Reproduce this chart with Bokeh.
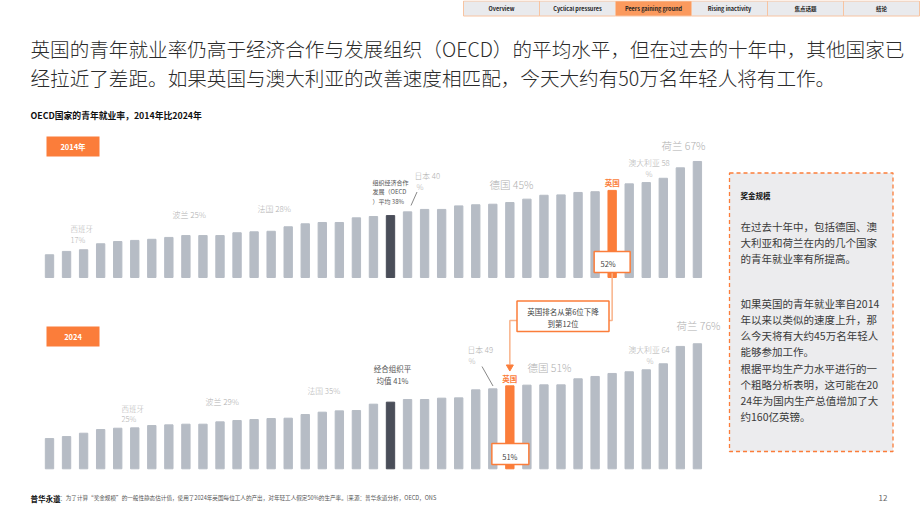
from bokeh.plotting import figure
from bokeh.models import Range1d, ColumnDataSource
from bokeh.embed import file_html
from bokeh.resources import INLINE
from bokeh.core.properties import value

FONT = value("Noto Sans CJK SC")
FONT_LIGHT = value("'Noto Sans CJK SC Light', 'Noto Sans CJK SC'")

# ---------------- data ----------------
rates_2014 = [17.0, 18.8, 19.7, 22.9, 24.1, 24.7, 25.3, 26.3, 27.3, 27.3,
              27.3, 28.8, 29.3, 29.6, 32.0, 33.6, 34.3, 34.3, 36.8, 37.5,
              38.0, 40.0, 41.3, 41.3, 43.2, 43.8, 44.1, 45.0, 46.8, 48.9,
              49.1, 50.4, 50.8, 51.5, 55.0, 55.7, 58.0, 63.6, 67.0]
rates_2024 = [19.2, 20.4, 22.4, 24.6, 25.4, 25.6, 27.0, 27.4, 27.8, 27.8,
              29.2, 30.0, 30.6, 31.2, 31.4, 33.6, 35.0, 35.8, 36.0, 39.8,
              41.0, 42.6, 42.6, 43.4, 43.6, 48.4, 49.0, 50.8, 51.2, 51.4,
              51.4, 55.0, 56.4, 58.2, 59.2, 60.4, 64.0, 74.4, 76.0]
oecd_idx_2014, uk_idx_2014 = 20, 33
oecd_idx_2024, uk_idx_2024 = 20, 27
uk_2014_label, uk_2024_label = "52%", "51%"

tabs = ["Overview", "Cyclical pressures", "Peers gaining ground",
        "Rising inactivity", "焦点话题", "结论"]
active_tab = 2

title_lines = ["英国的青年就业率仍高于经济合作与发展组织（OECD）的平均水平，但在过去的十年中，其他国家已",
               "经拉近了差距。如果英国与澳大利亚的改善速度相匹配，今天大约有50万名年轻人将有工作。"]
subtitle = "OECD国家的青年就业率，2014年比2024年"
side_title = "奖金规模"
side_lines = ["在过去十年中，包括德国、澳", "大利亚和荷兰在内的几个国家", "的青年就业率有所提高。", "",
              "如果英国的青年就业率自2014", "年以来以类似的速度上升，那", "么今天将有大约45万名年轻人",
              "能够参加工作。", "根据平均生产力水平进行的一", "个粗略分析表明，这可能在20",
              "24年为国内生产总值增加了大", "约160亿英镑。"]
footer_note = "注：为了计算“奖金规模”的一般性静态估计值，使用了2024年英国每位工人的产出，对年轻工人假定50%的生产率。|来源：普华永道分析，OECD，ONS"

# ---------------- styles / layout ----------------
W, H = 920, 518
ORANGE = "#fb7d3a"
ORANGE_LIGHT = "#f9b38a"
GREY_BAR = "#b6bcc5"
DARK_BAR = "#4a4e59"
LABEL_GREY = "#b0b0b0"
TEXT = "#333333"

PITCH, X0 = 17.05, 49.0  # bar pitch / first bar centre in px
# 2014 panel: px = A14 - K14 * v ; 2024 panel: px = A24 - K24 * v
A14, K14, BASE14_PX = 286.0, 1.866, 277.0
A24, K24, BASE24_PX = 470.1, 1.669, 468.3

p = figure(width=W, height=H, output_backend="svg", toolbar_location=None,
           x_range=Range1d(0, W), y_range=Range1d(H, 0),
           x_axis_location=None, y_axis_location=None, min_border=0)
p.outline_line_color = None
p.background_fill_color = "white"
p.border_fill_color = "white"
p.grid.grid_line_color = None

p.extra_x_ranges = {"bars": Range1d(-X0 / PITCH, (W - X0) / PITCH)}
p.extra_y_ranges = {
    "y14": Range1d((A14 - H) / K14, A14 / K14),
    "y24": Range1d((A24 - H) / K24, A24 / K24),
}


def txt(x, y, s, size, color=TEXT, bold=False, align="left", font=FONT):
    p.text(x=[x], y=[y], text=[s], text_font=font, text_font_size=f"{size}px",
           text_color=color, text_align=align, text_baseline="middle",
           text_font_style="bold" if bold else "normal")


def bar_px(i):
    return X0 + PITCH * i


# ---------------- nav tabs ----------------
for k, t in enumerate(tabs):
    l = 463 + 76 * k
    p.quad(left=[l], right=[l + 76], top=[0.5], bottom=[15.5],
           fill_color="#fb9a5e" if k == active_tab else "#e9eaed",
           line_color="#f7c4a2", line_width=1)
    txt(l + 38, 8, t, 5.5, color="#222", bold=True, align="center")

# ---------------- title ----------------
txt(30, 47.5, title_lines[0], 19.6, color="#2b2b2b", font=FONT_LIGHT)
txt(30, 76.5, title_lines[1], 19.6, color="#2b2b2b", font=FONT_LIGHT)
txt(30, 115, subtitle, 8.8, color="#111", bold=True)

# ---------------- panels ----------------
for (vals, oi, ui, yr, base_px, A, K, tag, tag_top) in [
    (rates_2014, oecd_idx_2014, uk_idx_2014, "y14", BASE14_PX, A14, K14, "2014年", 136),
    (rates_2024, oecd_idx_2024, uk_idx_2024, "y24", BASE24_PX, A24, K24, "2024", 326),
]:
    colors = [GREY_BAR] * len(vals)
    colors[oi] = DARK_BAR
    colors[ui] = ORANGE
    src = ColumnDataSource(dict(x=list(range(len(vals))), top=vals, color=colors))
    base_v = (A - base_px) / K
    p.vbar(x="x", top="top", bottom=base_v, width=0.49, color="color",
           source=src, x_range_name="bars", y_range_name=yr)
    p.quad(left=[46], right=[99], top=[tag_top], bottom=[tag_top + 20],
           fill_color=ORANGE, line_color=None)
    txt(72.5, tag_top + 10, tag, 7.5, color="white", bold=True, align="center")

L = FONT_LIGHT
# ----- 2014 labels -----
txt(70, 228, "西班牙", 7.5, LABEL_GREY, font=L)
txt(70, 239, "17%", 7.5, LABEL_GREY, font=L)
txt(172, 214, "波兰 25%", 8, LABEL_GREY, font=L)
txt(257, 208, "法国 28%", 8, LABEL_GREY, font=L)
txt(372, 182, "组织经济合作", 6, "#555")
txt(372, 191, "发展（OECD", 6, "#555")
txt(372, 200.5, "）平均 38%", 6, "#555")
txt(414, 175, "日本 40", 7.8, LABEL_GREY, font=L)
txt(416, 186, "%", 7.8, LABEL_GREY, font=L)
p.line(x=[416.5, 410.5], y=[191.5, 205], line_color="#888", line_width=1)
txt(489, 183.5, "德国 45%", 10.5, LABEL_GREY, font=L)
txt(628, 162, "澳大利亚 58", 7.8, LABEL_GREY, font=L)
txt(645, 173, "%", 7.8, LABEL_GREY, font=L)
txt(661, 145, "荷兰 67%", 10.5, LABEL_GREY, font=L)
uk14x = bar_px(uk_idx_2014)
txt(uk14x, 182, "英国", 7.5, ORANGE, bold=True, align="center")

# ----- 2024 labels -----
txt(121, 407.5, "西班牙", 7.5, LABEL_GREY, font=L)
txt(121, 418, "25%", 7.5, LABEL_GREY, font=L)
txt(205, 400.5, "波兰 29%", 8, LABEL_GREY, font=L)
txt(307, 390, "法国 35%", 7.8, LABEL_GREY, font=L)
txt(392, 368, "经合组织平", 7.5, "#555", align="center")
txt(392, 379.5, "均值 41%", 7.5, "#555", align="center")
txt(467, 349, "日本 49", 7.8, LABEL_GREY, font=L)
txt(468, 360, "%", 7.8, LABEL_GREY, font=L)
p.line(x=[481.5, 492.5], y=[366, 385.5], line_color="#888", line_width=1)
txt(527, 367, "德国 51%", 10.5, LABEL_GREY, font=L)
txt(628, 349, "澳大利亚 64", 7.8, LABEL_GREY, font=L)
txt(646, 359.5, "%", 7.8, LABEL_GREY, font=L)
txt(676, 324.5, "荷兰 76%", 10.5, LABEL_GREY, font=L)
uk24x = bar_px(uk_idx_2024)
txt(uk24x, 377.5, "英国", 7.5, ORANGE, bold=True, align="center")

# ----- connectors -----
p.line(x=[uk14x, uk14x, 608.5], y=[272, 320, 320], line_color=ORANGE_LIGHT, line_width=1.5)
p.line(x=[516.5, uk24x, uk24x], y=[320, 320, 364], line_color=ORANGE_LIGHT, line_width=1.5)
p.scatter(x=[uk24x], y=[366.5], marker="inverted_triangle", size=7, color=ORANGE)
p.quad(left=[516.5], right=[608.5], top=[300.5], bottom=[331], fill_color="white",
       line_color=ORANGE, line_width=1.5)
txt(562.5, 311, "英国排名从第6位下降", 7.5, "#444", align="center")
txt(562.5, 323, "到第12位", 7.5, "#444", align="center")

# value boxes
p.quad(left=[uk14x - 18], right=[uk14x + 18], top=[251], bottom=[272], fill_color="white",
       line_color=ORANGE, line_width=1.5)
txt(uk14x - 4, 262.5, uk_2014_label, 7.5, "#444", align="center")
p.quad(left=[uk24x - 18], right=[uk24x + 19], top=[443], bottom=[464], fill_color="white",
       line_color=ORANGE, line_width=1.5)
txt(uk24x, 455.5, uk_2024_label, 7.5, "#444", align="center")

# ---------------- side box ----------------
p.quad(left=[729], right=[892.5], top=[172.5], bottom=[451], fill_color="#ececee",
       line_color=ORANGE, line_width=1.3, line_dash="4 3")
txt(740, 195, side_title, 7.5, "#111", bold=True)
y = 225.5
for i, ln in enumerate(side_lines):
    if ln == "":
        y += 29
        continue
    txt(740, y, ln, 10.5, "#3a3a3a")
    y += 16 if i != 7 else 17.5

# ---------------- footer ----------------
txt(30, 497.5, "普华永道", 7.5, "#111", bold=True)
txt(54, 497.5, footer_note, 5.6, "#555")
txt(878, 497.5, "12", 8, "#666")

open("out.html", "w").write(file_html(p, INLINE))
